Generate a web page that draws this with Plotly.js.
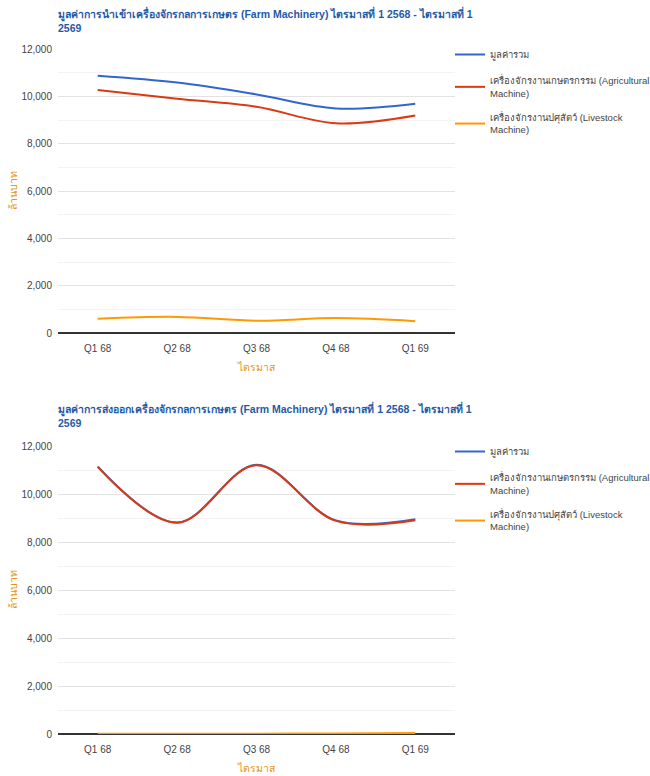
<!DOCTYPE html>
<html>
<head>
<meta charset="utf-8">
<script src="https://cdn.plot.ly/plotly-3.0.1.min.js"></script>
<style>
  html, body { margin: 0; padding: 0; background: #ffffff; }
  #c1 { position: absolute; left: 0; top: 0; width: 650px; height: 380px; }
  #c2 { position: absolute; left: 0; top: 395px; width: 650px; height: 381px; }
</style>
</head>
<body>
<div id="c1"></div>
<div id="c2"></div>
<script>
// ---- data ----
const quarters = ['Q1 68', 'Q2 68', 'Q3 68', 'Q4 68', 'Q1 69'];
const importTotal = [10870, 10580, 10080, 9490, 9690];
const importAgri = [10270, 9900, 9560, 8860, 9190];
const importLive = [600, 680, 520, 630, 500];
const exportTotal = [11145, 8810, 11215, 8900, 8950];
const exportAgri = [11130, 8800, 11200, 8880, 8910];
const exportLive = [15, 10, 15, 20, 40];
const seriesNames = [
  'มูลค่ารวม',
  'เครื่องจักรงานเกษตรกรรม (Agricultural<br>Machine)',
  'เครื่องจักรงานปศุสัตว์ (Livestock<br>Machine)'
];
const title1 = 'มูลค่าการนำเข้าเครื่องจักรกลการเกษตร (Farm Machinery) ไตรมาสที่ 1 2568 - ไตรมาสที่ 1<br>2569';
const title2 = 'มูลค่าการส่งออกเครื่องจักรกลการเกษตร (Farm Machinery) ไตรมาสที่ 1 2568 - ไตรมาสที่ 1<br>2569';
const yTitle = 'ล้านบาท';
const xTitle = 'ไตรมาส';

const colors = ['#3366cc', '#dc3912', '#ff9900'];
const FONT = 'Liberation Sans, Arial, sans-serif';

function traces(a, b, c) {
  return [a, b, c].map((ys, i) => ({
    type: 'scatter', mode: 'lines', x: quarters, y: ys, name: seriesNames[i],
    legendgroup: 'g' + i,
    line: { color: colors[i], width: 2, shape: 'spline', smoothing: 1 },
    hoverinfo: 'skip'
  }));
}

function layout(title, h, mt, mb) {
  const ph = h - mt - mb;
  return {
    width: 650, height: h,
    margin: { l: 58, r: 195, t: mt, b: mb, pad: 0, autoexpand: false },
    paper_bgcolor: '#ffffff', plot_bgcolor: '#ffffff',
    font: { family: FONT, size: 10, color: '#444444' },
    title: {
      text: title, x: 58 / 650, xanchor: 'left', xref: 'container',
      y: 1 - 18 / h, yanchor: 'top', yref: 'container',
      font: { family: FONT, size: 10.5, color: '#1f5aa6', weight: 'bold' }
    },
    showlegend: true,
    legend: {
      x: 1 - 5 / 397, xanchor: 'left', y: 1 + 9 / ph, yanchor: 'top',
      font: { family: FONT, size: 9.5, color: '#444444' },
      tracegroupgap: 9, bgcolor: 'rgba(0,0,0,0)'
    },
    xaxis: {
      type: 'category', range: [-0.5, 4.5], showgrid: false, zeroline: false,
      showline: false, ticks: '', ticklabelstandoff: 8,
      tickfont: { size: 10, color: '#444444' },
      title: { text: xTitle, font: { size: 10.5, color: '#e69512' }, standoff: 10 },
      fixedrange: true
    },
    yaxis: {
      range: [0, 12000], dtick: 2000, tickformat: ',d', showgrid: true,
      gridcolor: '#e3e3e3', gridwidth: 1,
      minor: { dtick: 1000, showgrid: true, gridcolor: '#f3f3f3', gridwidth: 1 },
      zeroline: true, zerolinecolor: '#333333', zerolinewidth: 1.5,
      ticks: '', ticklabelstandoff: 5,
      tickfont: { size: 10, color: '#444444' },
      title: { text: yTitle, font: { size: 10.5, color: '#e69512' }, standoff: 1 },
      fixedrange: true
    }
  };
}

Plotly.newPlot('c1', traces(importTotal, importAgri, importLive),
  layout(title1, 380, 49, 47), { staticPlot: true });
Plotly.newPlot('c2', traces(exportTotal, exportAgri, exportLive),
  layout(title2, 381, 51, 42), { staticPlot: true });
</script>
</body>
</html>
